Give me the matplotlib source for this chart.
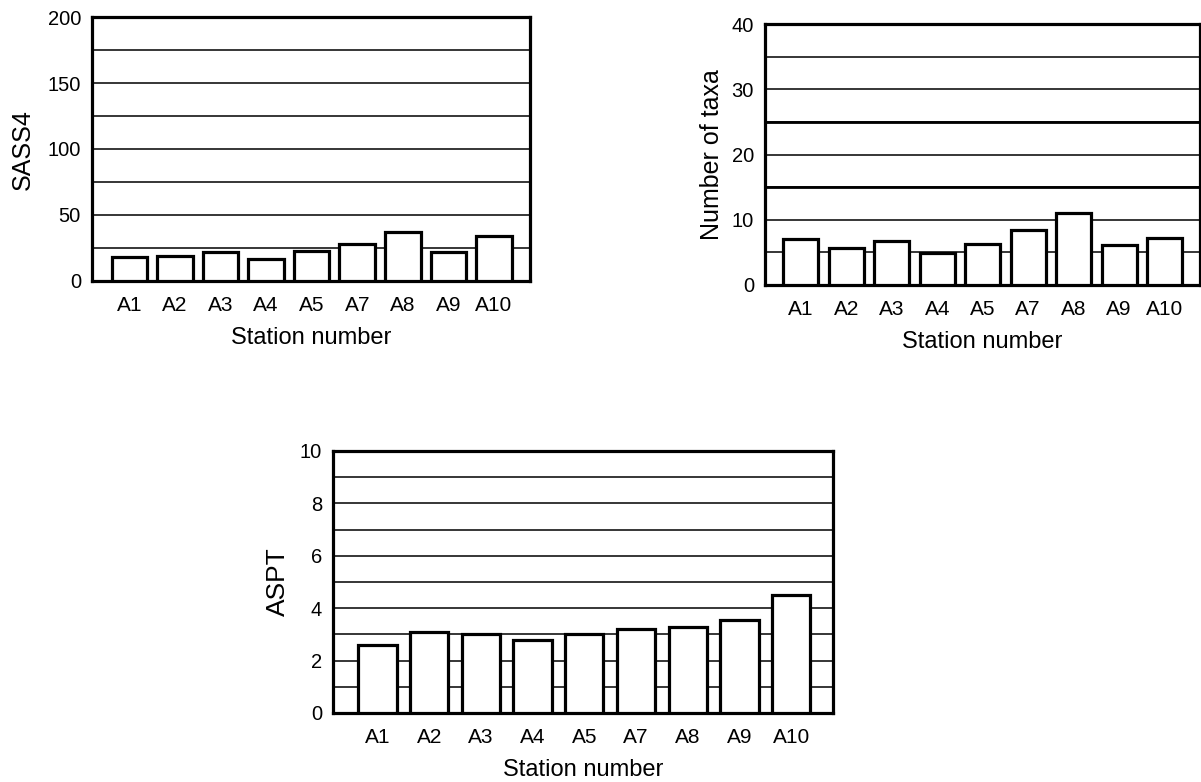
import numpy as np
import matplotlib.pyplot as plt

plt.rcParams['font.family'] = ['Liberation Sans', 'DejaVu Sans']

stations = ['A1', 'A2', 'A3', 'A4', 'A5', 'A7', 'A8', 'A9', 'A10']
sass4 = [18, 19, 22, 16.5, 23, 28, 37, 22, 34]
taxa = [7, 5.7, 6.8, 4.9, 6.3, 8.4, 11.1, 6.1, 7.2]
aspt = [2.6, 3.1, 3.0, 2.8, 3.0, 3.2, 3.3, 3.55, 4.5]

W, H = 1201, 782


def px_axes(fig, left, right, top, bottom):
    # axes box given in pixel coords of the picture
    return fig.add_axes([left / W, (H - bottom) / H, (right - left) / W, (bottom - top) / H])


def draw_panel(ax, values, ymax, major, minor, xlim, width, thick=()):
    x = np.arange(len(values))
    ax.set_axisbelow(True)
    ax.bar(x, values, width=width, color='white', edgecolor='black',
           linewidth=2.3, zorder=3)
    ax.set_xlim(*xlim)
    ax.set_ylim(0, ymax)
    ax.set_yticks(np.arange(0, ymax + 0.001, major))
    ax.set_yticks(np.arange(0, ymax + 0.001, minor), minor=True)
    ax.yaxis.grid(True, which='both', color='black', linewidth=1.1)
    for t in thick:
        ax.axhline(t, color='black', linewidth=2, zorder=1)
    ax.set_xticks(x)
    ax.set_xticklabels(stations)
    ax.tick_params(axis='x', length=0, pad=11, labelsize=15)
    ax.tick_params(axis='y', which='both', length=0, pad=8, labelsize=14.5)
    for s in ax.spines.values():
        s.set_linewidth(2.3)


fig = plt.figure(figsize=(W / 100, H / 100), dpi=100)

ax1 = px_axes(fig, 92, 530, 17, 281)
draw_panel(ax1, sass4, 200, 50, 25, (-0.82, 8.79), 0.78)
fig.text(22.5 / W, 1 - 150 / H, 'SASS4', rotation=90, ha='center', va='center', fontsize=18)
fig.text(311 / W, 1 - 338 / H, 'Station number', ha='center', va='center', fontsize=17)

ax2 = px_axes(fig, 765, 1200, 24, 285)
draw_panel(ax2, taxa, 40, 10, 5, (-0.79, 8.78), 0.77, thick=(15, 25))
fig.text(712 / W, 1 - 155 / H, 'Number of taxa', rotation=90, ha='center', va='center', fontsize=18)
fig.text(982 / W, 1 - 342 / H, 'Station number', ha='center', va='center', fontsize=17)

ax3 = px_axes(fig, 333, 833, 451, 713)
draw_panel(ax3, aspt, 10, 2, 1, (-0.86, 8.81), 0.74)
fig.text(277.5 / W, 1 - 582 / H, 'ASPT', rotation=90, ha='center', va='center', fontsize=19)
fig.text(583 / W, 1 - 770 / H, 'Station number', ha='center', va='center', fontsize=17)

fig.savefig('out.png', dpi=100)
